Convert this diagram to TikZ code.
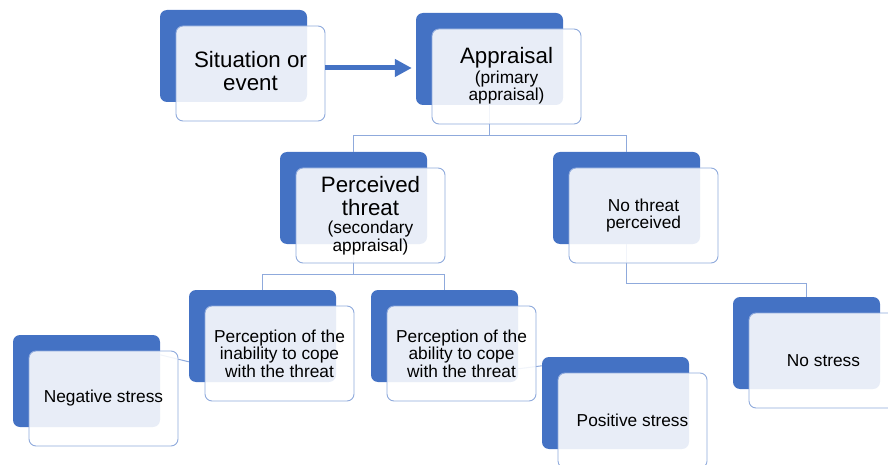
\documentclass[tikz,border=0pt]{standalone}
\usepackage{fontspec}
\setmainfont{Liberation Sans}
\usetikzlibrary{arrows.meta}
\definecolor{boxblue}{HTML}{4472C4}
\definecolor{edgeblue}{HTML}{8FAADC}
\newcommand{\boxbig}{\fontsize{22.3}{25}\selectfont}
\newcommand{\boxsmall}{\fontsize{17.3}{17.5}\selectfont}
\tikzset{%
  back box/.style={
    rectangle,
    rounded corners=7pt,
    fill=boxblue,
    inner sep=0pt,
    minimum width=147pt,
    minimum height=92pt
  },
  front box/.style={
    rectangle,
    rounded corners=7pt,
    draw=edgeblue,
    line width=0.9pt,
    fill=white,
    fill opacity=0.88,
    text opacity=1,
    align=center,
    font=\boxsmall,
    inner sep=0pt,
    minimum width=149pt,
    minimum height=95pt
  },
  box sit/.style={text depth=5pt},
  box appr/.style={text depth=4.5pt},
  link/.style={
    draw=edgeblue,
    line width=1pt
  },
  flow/.style={
    draw=boxblue,
    line width=5pt,
    -{Triangle[length=17pt, width=17pt]}
  },
}

\begin{document}
\begin{tikzpicture}[x=1pt, y=-1pt]
\useasboundingbox (0,0) rectangle (888,465);

\foreach \n/\x/\y in {sit/233.5/56, appr/489.5/59, thr/353.5/198, nothr/626.5/198,
    inab/262.5/336, abil/444.5/336, neg/86.5/381, pos/615.5/403, nostr/806.5/343}
  \node [back box] (\n-back) at (\x,\y) {};

\draw [link] (appr-back.south) -- ++(0,30) -| (thr-back.north);
\draw [link] (appr-back.south) -- ++(0,30) -| (nothr-back.north);
\draw [link] (thr-back.south) -- ++(0,30) -| (inab-back.north);
\draw [link] (thr-back.south) -- ++(0,30) -| (abil-back.north);
\draw [link] (nothr-back.south) -- ++(0,39) -| (nostr-back.north);
\draw [link] ([yshift=-20pt]neg-back.north east) -- ([yshift=-72pt]inab-back.north west);
\draw [link] ([yshift=-79pt]abil-back.north east) -- ([yshift=-9pt]pos-back.north west);

\foreach \n/\t in {sit/{\boxbig Situation or\\[5pt]\boxbig event},
    appr/{\boxbig Appraisal\\[2pt](primary\\appraisal)},
    thr/{\boxbig Perceived\\[5pt]\boxbig threat\\[1pt](secondary\\appraisal)},
    nothr/{No threat\\perceived},
    inab/{Perception of the\\inability to cope\\with the threat},
    abil/{Perception of the\\ability to cope\\with the threat},
    neg/{Negative stress},
    pos/{Positive stress},
    nostr/{No stress}}
  \node [front box, box \n/.try] (\n) at ([shift={(17,17.5)}]\n-back) {\t};

\draw [flow] ([yshift=5.5pt]sit.east) -- ([yshift=5.5pt]sit.east -| appr-back.west)
  [shorten >=4pt];

\end{tikzpicture}
\end{document}
